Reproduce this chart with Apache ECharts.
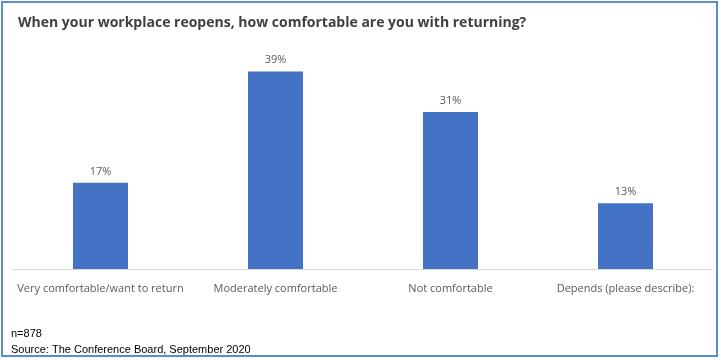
<!DOCTYPE html>
<html>
<head>
<meta charset="utf-8">
<script src="https://cdn.jsdelivr.net/npm/echarts@6/dist/echarts.min.js"></script>
<style>
  html, body { margin: 0; padding: 0; background: #ffffff; }
  #frame {
    position: absolute; left: 1px; top: 1px;
    width: 713px; height: 352px;
    border: 2px solid #5b8bd0;
    background: #fff;
  }
  #chart { width: 713px; height: 352px; }
</style>
</head>
<body>
<div id="frame"><div id="chart"></div></div>
<script>
// 数据
var categories = ['Very comfortable/want to return', 'Moderately comfortable', 'Not comfortable', 'Depends (please describe):'];
var values = [17, 39, 31, 13];
var titleText = 'When your workplace reopens, how comfortable are you with returning?';
var noteLines = ['n=878', 'Source: The Conference Board, September 2020'];

var myChart = echarts.init(document.getElementById('chart'));

var option = {
  animation: false,
  title: {
    text: titleText,
    left: 10,
    top: 8,
    textStyle: {
      fontFamily: 'Open Sans',
      fontSize: 14,
      fontWeight: 'bold',
      color: '#404040'
    }
  },
  grid: {
    left: 10,
    right: 3,
    top: 38,
    bottom: 86
  },
  xAxis: {
    type: 'category',
    data: categories,
    axisLine: { lineStyle: { color: '#d9d9d9', width: 1 } },
    axisTick: { show: false },
    axisLabel: {
      interval: 0,
      margin: 14,
      color: '#595959',
      fontFamily: 'Open Sans',
      fontSize: 11
    }
  },
  yAxis: {
    type: 'value',
    min: 0,
    max: 45,
    show: false,
    splitLine: { show: false }
  },
  series: [
    {
      type: 'bar',
      data: values,
      barWidth: 55,
      itemStyle: { color: '#4472c4' },
      label: {
        show: true,
        position: 'top',
        distance: 6,
        formatter: '{c}%',
        color: '#595959',
        fontFamily: 'Open Sans',
        fontSize: 11
      }
    }
  ],
  graphic: [
    {
      type: 'text',
      left: 8,
      top: 323,
      style: {
        text: noteLines.join('\n'),
        font: '11px "Liberation Sans", Arial, sans-serif',
        lineHeight: 16,
        fill: '#000000'
      }
    }
  ]
};

myChart.setOption(option);
</script>
</body>
</html>
